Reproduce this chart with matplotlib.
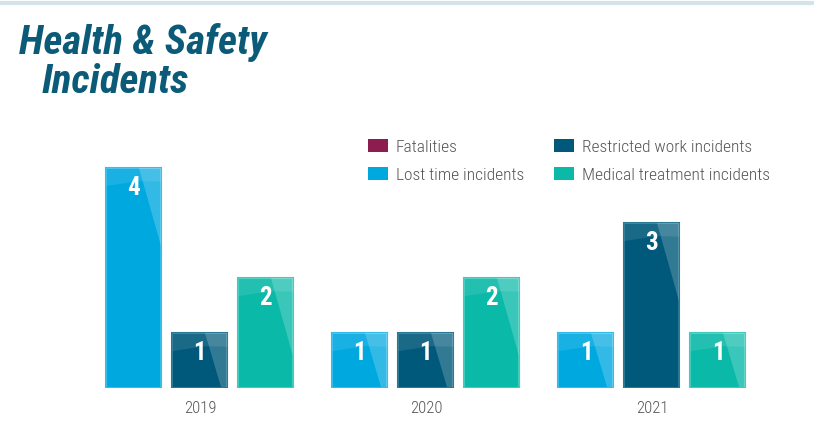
import matplotlib
matplotlib.use("Agg")
import matplotlib.pyplot as plt
from matplotlib.patches import Patch, Polygon
import numpy as np

years = ["2019", "2020", "2021"]
series = ["Fatalities", "Lost time incidents", "Restricted work incidents", "Medical treatment incidents"]
fatalities = [0, 0, 0]
lost_time = [4, 1, 1]
restricted = [1, 1, 3]
medical = [2, 2, 1]

colors = ["#8c1d4f", "#00a8e0", "#00587a", "#0bb9a9"]
edges = ["#a8456f", "#35bdea", "#2a7894", "#3fcbbe"]

FONT = ["Roboto Condensed", "DejaVu Sans"]
plt.rcParams["font.family"] = FONT

fig = plt.figure(figsize=(8.14, 4.36), dpi=100)
# top rule
fig.add_artist(plt.Line2D([0, 1], [0.992, 0.992], color="#d3e3ea", lw=3, transform=fig.transFigure))

ax = fig.add_axes([60/814, 48/436, 740/814, 278/436])
ax.set_xlim(-0.619, 2.655)
ax.set_ylim(0, 5.05)
for s in ax.spines.values():
    s.set_visible(False)
ax.set_yticks([])
x = np.arange(len(years))
ax.set_xticks(x)
ax.set_xticklabels(years, color="#555555", fontsize=12, fontweight="light")
ax.tick_params(axis="x", length=0, pad=9)

bw = 0.243
pitch = 0.292
data = [fatalities, lost_time, restricted, medical]
offsets = [0.0, -pitch, 0.0, pitch]
for i, (vals, off) in enumerate(zip(data, offsets)):
    bars = ax.bar(x + off, vals, width=bw, color=colors[i], edgecolor=edges[i], linewidth=1.5, zorder=2)
    for b, v in zip(bars, vals):
        if v <= 0:
            continue
        x0 = b.get_x(); w = b.get_width(); top = b.get_height()
        band = Polygon([(x0, top), (x0 + w, top), (x0 + w, top - 0.25), (x0 + 0.6*w, top - 0.24), (x0, top - 0.33)],
                       closed=True, facecolor="white", alpha=0.10, lw=0, zorder=3)
        ax.add_patch(band)
        L = 1.42
        if top >= L:
            tri = Polygon([(x0 + 0.6*w, top), (x0 + w, top), (x0 + w, top - L)],
                          closed=True, facecolor="white", alpha=0.2, lw=0, zorder=3)
        else:
            xb = x0 + 0.6*w + 0.4*w*top/L
            tri = Polygon([(x0 + 0.6*w, top), (x0 + w, top), (x0 + w, 0.02), (xb, 0.02)],
                          closed=True, facecolor="white", alpha=0.2, lw=0, zorder=3)
        ax.add_patch(tri)
        ax.text(b.get_x() + w/2, top - 0.36, str(v), ha="center", va="center", color="white",
                fontsize=18, fontweight="bold", zorder=4)

fig.text(19/814, 1 - 42/436, "Health & Safety", fontsize=29.5, fontweight="bold", fontstyle="italic",
         color="#0a5a78", va="center", ha="left")
fig.text(42/814, 1 - 82/436, "Incidents", fontsize=29.5, fontweight="bold", fontstyle="italic",
         color="#0a5a78", va="center", ha="left")

handles = [Patch(facecolor=c, edgecolor="none") for c in colors]
fs = 12.5
leg = fig.legend(handles, series, ncol=2, loc="upper left", bbox_to_anchor=(368/814, 1 - 139/436),
                 frameon=False, prop={"size": fs, "weight": "light"}, labelcolor="#555555",
                 handlelength=20/(fs*1.389), handleheight=0.8, borderpad=0, borderaxespad=0,
                 handletextpad=8/(fs*1.389), columnspacing=30/(fs*1.389), labelspacing=0.72)

fig.savefig("out.png", dpi=100)
